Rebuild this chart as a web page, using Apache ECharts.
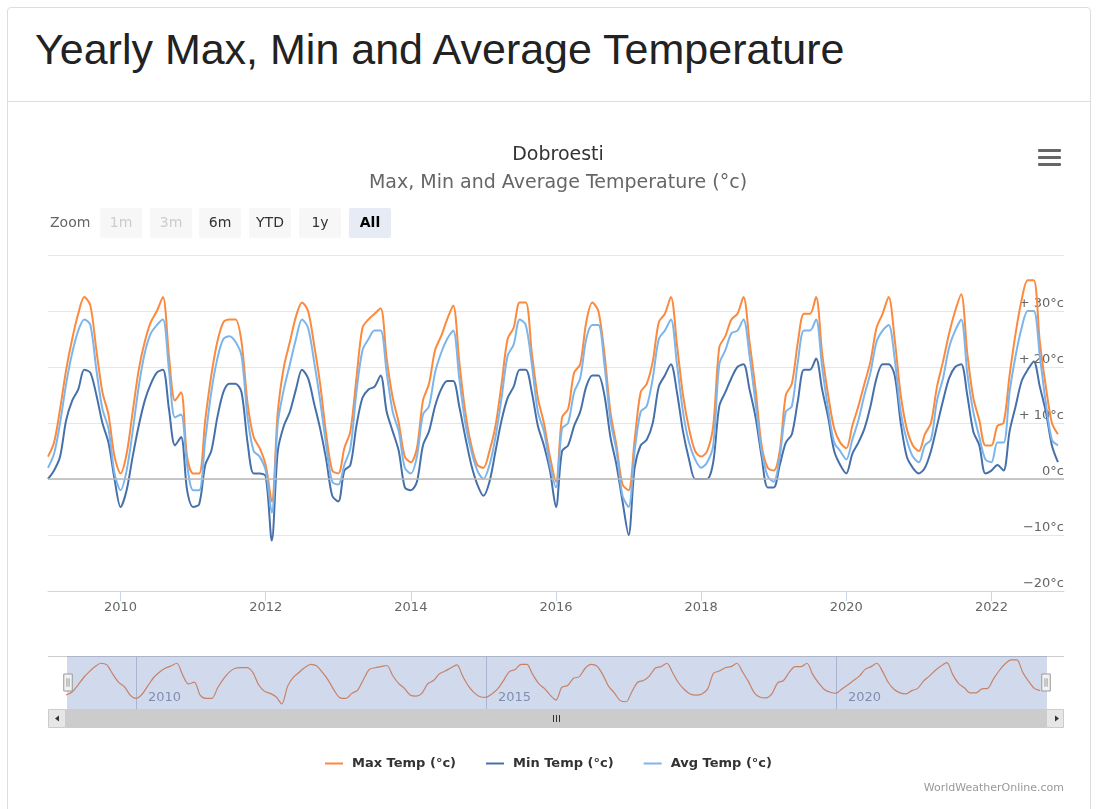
<!DOCTYPE html>
<html>
<head>
<meta charset="utf-8">
<title>Dobroesti - Yearly Max, Min and Average Temperature</title>
<script src="https://cdn.jsdelivr.net/npm/echarts@6/dist/echarts.min.js"></script>
<style>
    html, body { margin: 0; padding: 0; background: #fff; }
    body { width: 1097px; height: 809px; position: relative; overflow: hidden; font-family: "Liberation Sans", Arial, sans-serif; }
    .panel { position: absolute; left: 7px; top: 7px; width: 1082px; height: 840px; border: 1px solid #ddd; border-radius: 4px; }
    .panel-head { position: absolute; left: 0; top: 0; right: 0; height: 93px; border-bottom: 1px solid #ddd; }
    .panel-head h3 { margin: 0; position: absolute; left: 27px; top: 17px; font-size: 43px; line-height: 48px; font-weight: normal; color: #222; white-space: nowrap; }
    #chart { position: absolute; left: 0; top: 0; width: 1097px; height: 809px; }
</style>
</head>
<body>
<div class="panel">
    <div class="panel-head"><h3>Yearly Max, Min and Average Temperature</h3></div>
</div>
<div id="chart"></div>

<script>
    // monthly values, Jan..Dec for each year
    var years = [2009, 2010, 2011, 2012, 2013, 2014, 2015, 2016, 2017, 2018, 2019, 2020, 2021, 2022];

    var maxTemp = [
        4, 6.5, 12.5, 19.5, 25, 29.5, 32.5, 31, 23, 15.5, 11.5, 4,
        1, 4.5, 12, 19.5, 24.5, 28, 30, 32.5, 22, 14, 15.5, 4,
        1, 1, 10.5, 18.5, 24.5, 28, 28.5, 28.5, 24.5, 13.5, 7.5, 5.5,
        2.5, -4, 12, 20, 24.5, 29, 31.5, 30, 24, 17, 8, 1.5,
        1, 5.5, 8.5, 18, 27, 28.5, 29.5, 30.5, 21.5, 14.5, 10, 4,
        3, 5.5, 14, 17, 23, 25.5, 28.5, 31, 21, 12, 6, 2.5,
        2, 5, 9.5, 17, 25, 27, 31.5, 31.5, 22.5, 14.5, 10, 4,
        -0.5, 11, 12.5, 19, 20.5, 28, 31.5, 30, 22.5, 12, 6, -1,
        -2, 7, 15.5, 17, 21, 28, 29.5, 32.5, 24, 15, 9, 5,
        4, 5, 9.5, 23.5, 25.5, 28.5, 29.5, 32.5, 24.5, 16, 6, 2,
        1.5, 5, 15, 17, 24.5, 29.5, 29.5, 32.5, 22.5, 15, 9, 6.5,
        5.5, 9.5, 13, 17, 21, 27, 29.5, 32.5, 25, 15, 9, 6,
        5, 8, 10, 16.5, 21, 26, 30, 33, 22.5, 14.5, 10.5, 6,
        6, 9.5, 10, 18.5, 26, 32, 35.5, 35.5, 24.5, 16.5, 10, 8
    ];

    var minTemp = [
        0, 1.5, 4, 10.5, 14, 16, 19.5, 19, 15, 10, 6.5, 0,
        -5, -2, 4, 9.5, 14, 17, 19, 19.5, 12.5, 6, 7.5, -2,
        -5, -4.5, 2.5, 5, 11, 15.5, 17, 17, 15.5, 6.5, 1, 1,
        0.5, -11, 5, 9.5, 12, 16, 19.5, 18, 13.5, 9, 3.5, -3,
        -4, 1.5, 2.5, 9.5, 14.5, 16, 16.5, 18.5, 12, 8.5, 5, -1.5,
        -2, -0.5, 6, 8.5, 13, 16, 17.5, 17.5, 13, 7.5, 2.5, -1,
        -3, -0.5, 5, 10.5, 14.5, 16.5, 19.5, 19.5, 15.5, 9.5, 6, 1.5,
        -5, 5, 6, 9.5, 12, 16.5, 18.5, 18.5, 15, 7.5, 2.5, -4,
        -10, 2, 6, 7, 10, 16.5, 18.5, 20.5, 15.5, 8.5, 3.5, 0,
        0, 0, 3, 13, 15.5, 18, 20, 20.5, 16, 11, 4, -1.5,
        -1.5, 2.5, 6.5, 8, 14, 19.5, 19.5, 21.5, 16, 11, 5, 2.5,
        1, 4.5, 6.5, 9, 13, 18, 20.5, 20.5, 18.5, 10, 4, 2,
        1, 2, 5, 9.5, 14, 18, 20, 20.5, 15, 8.5, 6, 1,
        1.5, 2.5, 1.5, 8.5, 13, 17.5, 19.5, 21, 16.5, 12, 6, 3
    ];

    var avgTemp = [
        2, 4.5, 10, 17, 22.5, 26.5, 28.5, 27.5, 19.5, 12.5, 9, 1,
        -2, 1.5, 8.5, 16.5, 22.5, 26, 27.5, 28.5, 19.5, 11, 11.5, 2.5,
        -2, -2, 7, 15.5, 21.5, 25, 25.5, 24.5, 22, 11, 5, 4,
        1.5, -6, 10, 16, 20.5, 25, 28.5, 27, 21, 14, 6, -0.5,
        -1, 2.5, 5.5, 15.5, 23, 25, 26.5, 26.5, 19, 12, 8.5, 2,
        1, 4, 11.5, 13, 19, 22.5, 25, 26.5, 18, 10, 5, 1.5,
        0, 2.5, 7.5, 14.5, 22, 24, 28.5, 27.5, 20.5, 12, 8.5, 2.5,
        -1.5, 9, 10, 15.5, 18, 25, 27.5, 27.5, 20.5, 10.5, 5, -3,
        -5, 5, 12, 13, 18, 25, 26.5, 28.5, 20.5, 12, 6.5, 3.5,
        2, 3, 6, 20.5, 23, 26, 26.5, 28.5, 22, 13.5, 5, 0.5,
        -0.5, 4, 12, 13, 21, 26.5, 26.5, 28.5, 20, 12.5, 6.5, 5,
        3.5, 7, 10.5, 15, 19, 24.5, 26.5, 27.5, 21.5, 12, 7, 4,
        3, 6, 7, 14, 18, 23.5, 26.5, 28.5, 19, 12, 7.5, 3.5,
        3, 6.5, 6.5, 15.5, 22, 27, 30, 30, 22, 13.5, 7, 6
    ];

    var axisYears = [2010, 2012, 2014, 2016, 2018, 2020, 2022];
    var navigatorYears = [2010, 2015, 2020];
    var zoomButtons = ['1m', '3m', '6m', 'YTD', '1y', 'All'];

    var chart = echarts.init(document.getElementById('chart'));

    // x position of each month as a decimal year
    var monthPos = [];
    years.forEach(function (y) {
        for (var m = 0; m < 12; m++) monthPos.push(y + m / 12);
    });
    function pairs(values) {
        return values.map(function (v, i) { return [monthPos[i], v]; });
    }
    function yearLabel(v) { return String(Math.round(v)); }

    var xMin = years[0];
    var xMax = years[years.length - 1] + 1;
    var font = '"DejaVu Sans", Verdana, sans-serif';

    // zoom buttons, menu icon, scrollbar
    var graphics = [{
        type: 'text', x: 50, y: 223,
        style: { text: 'Zoom', fill: '#666', font: '14px ' + font, textVerticalAlign: 'middle', verticalAlign: 'middle' }
    }];
    var btnX = [100, 150, 199, 249, 299, 349];
    zoomButtons.forEach(function (b, i) {
        var disabled = i < 2, selected = b === 'All';
        graphics.push({
            type: 'rect', shape: { x: btnX[i], y: 208, width: 42, height: 30, r: 2 },
            style: { fill: selected ? '#e6ebf5' : '#f7f7f7' }
        });
        graphics.push({
            type: 'text', x: btnX[i] + 21, y: 223,
            style: {
                text: b, fill: disabled ? '#cccccc' : (selected ? '#000' : '#333'),
                font: (selected ? 'bold ' : '') + '14px ' + font,
                textAlign: 'center', align: 'center', textVerticalAlign: 'middle', verticalAlign: 'middle'
            }
        });
    });
    [149, 156, 163].forEach(function (y) {
        graphics.push({ type: 'rect', shape: { x: 1038, y: y, width: 23, height: 3, r: 1 }, style: { fill: '#666' } });
    });
    // navigator outline + scrollbar
    graphics.push(
        { type: 'line', shape: { x1: 48, y1: 656.5, x2: 1064, y2: 656.5 }, style: { stroke: '#cccccc', lineWidth: 1 } },
        { type: 'rect', shape: { x: 48, y: 709, width: 1016, height: 19 }, style: { fill: '#f2f2f2' } },
        { type: 'rect', shape: { x: 66, y: 709, width: 980, height: 19 }, style: { fill: '#cccccc' } },
        { type: 'rect', shape: { x: 48.5, y: 709.5, width: 17, height: 18 }, style: { fill: '#e6e6e6', stroke: '#cccccc', lineWidth: 1 } },
        { type: 'rect', shape: { x: 1046.5, y: 709.5, width: 17, height: 18 }, style: { fill: '#e6e6e6', stroke: '#cccccc', lineWidth: 1 } },
        { type: 'polygon', shape: { points: [[55, 718.5], [59, 715.5], [59, 721.5]] }, style: { fill: '#333' } },
        { type: 'polygon', shape: { points: [[1059, 718.5], [1055, 715.5], [1055, 721.5]] }, style: { fill: '#333' } }
    );
    [553, 556, 559].forEach(function (x) {
        graphics.push({ type: 'line', shape: { x1: x + 0.5, y1: 715, x2: x + 0.5, y2: 722 }, style: { stroke: '#333', lineWidth: 1 } });
    });
    graphics.push({
        type: 'text', x: 1064, y: 788,
        style: { text: 'WorldWeatherOnline.com', fill: '#999', font: '11px ' + font, textAlign: 'right', align: 'right', textVerticalAlign: 'middle', verticalAlign: 'middle' }
    });

    chart.setOption({
        animation: false,
        textStyle: { fontFamily: font },
        title: {
            text: 'Dobroesti',
            subtext: 'Max, Min and Average Temperature (°c)',
            left: 553, top: 141, textAlign: 'center', itemGap: 9,
            textStyle: { fontSize: 19, fontWeight: 'normal', color: '#333' },
            subtextStyle: { fontSize: 19, color: '#666' }
        },
        legend: {
            data: ['Max Temp (°c)', 'Min Temp (°c)', 'Avg Temp (°c)'],
            left: 320, top: 752,
            icon: 'rect', itemWidth: 18, itemHeight: 2, itemGap: 30,
            textStyle: { fontSize: 13, fontWeight: 'bold', color: '#333', padding: [0, 0, 0, 4] }
        },
        color: ['#fb8a3e', '#4670aa', '#7cb5ec'],
        graphic: graphics,
        grid: [
            { left: 48, right: 33, top: 255, height: 336 },
            { left: 66, right: 51, top: 656, height: 53 }
        ],
        xAxis: [{
            type: 'value', gridIndex: 0, min: xMin, max: xMax,
            axisLine: { onZero: false, lineStyle: { color: '#ccd6eb' } },
            axisTick: { show: true, length: 10, customValues: axisYears, lineStyle: { color: '#ccd6eb' } },
            axisLabel: { customValues: axisYears, color: '#666', fontSize: 13, margin: 10, formatter: yearLabel },
            splitLine: { show: false }
        }, {
            type: 'value', gridIndex: 1, min: xMin, max: xMax,
            axisLine: { show: false, onZero: false },
            axisTick: { show: true, inside: true, length: 53, customValues: navigatorYears, lineStyle: { color: '#c6cbd6' } },
            axisLabel: {
                customValues: navigatorYears, inside: true, align: 'left', margin: 5,
                color: '#8a93a8', fontSize: 13, padding: [0, 0, 0, 12], formatter: yearLabel
            },
            splitLine: { show: false }
        }],
        yAxis: [{
            type: 'value', gridIndex: 0, position: 'right', min: -20, max: 40, interval: 10,
            axisLine: { show: false }, axisTick: { show: false },
            axisLabel: {
                inside: true, margin: 0, color: '#666', fontSize: 13, verticalAlign: 'bottom', lineHeight: 15,
                formatter: function (v) {
                    if (v === 40) return '';
                    if (v > 0) return '+ ' + v + '°c';
                    if (v < 0) return '\u2212' + Math.abs(v) + '°c';
                    return '0°c';
                }
            },
            splitLine: { lineStyle: { color: '#e6e6e6' } }
        }, {
            type: 'value', gridIndex: 1, min: -8.5, max: 39, show: false
        }],
        dataZoom: [{
            type: 'slider', xAxisIndex: 0, filterMode: 'none',
            left: 66, right: 51, top: 656, height: 53,
            start: 0, end: 100,
            showDataShadow: false, showDetail: false, brushSelect: false, moveHandleSize: 0,
            backgroundColor: 'rgba(0,0,0,0)', borderColor: 'rgba(0,0,0,0)',
            fillerColor: 'rgba(102,133,194,0.3)',
            handleIcon: 'path://M0,0H8V16H0Z M3,4V12 M5,4V12',
            handleSize: 17,
            handleStyle: { color: '#f2f2f2', borderColor: '#999', borderWidth: 1, shadowBlur: 0 }
        }],
        series: [{
            name: 'Max Temp (°c)', type: 'line', data: pairs(maxTemp),
            smooth: 0.3, showSymbol: false, lineStyle: { width: 2 },
            markLine: {
                silent: true, symbol: 'none', label: { show: false },
                lineStyle: { color: '#b8b8b8', width: 1.5, type: 'solid' },
                data: [{ yAxis: 0 }]
            }
        }, {
            name: 'Min Temp (°c)', type: 'line', data: pairs(minTemp),
            smooth: 0.3, showSymbol: false, lineStyle: { width: 2 }
        }, {
            name: 'Avg Temp (°c)', type: 'line', data: pairs(avgTemp),
            smooth: 0.3, showSymbol: false, lineStyle: { width: 2 }
        }, {
            name: 'navigator', type: 'line', xAxisIndex: 1, yAxisIndex: 1, data: pairs(maxTemp),
            smooth: 0.3, showSymbol: false, silent: true, color: '#f08040', lineStyle: { width: 1.2 }
        }]
    });
</script>
</body>
</html>
